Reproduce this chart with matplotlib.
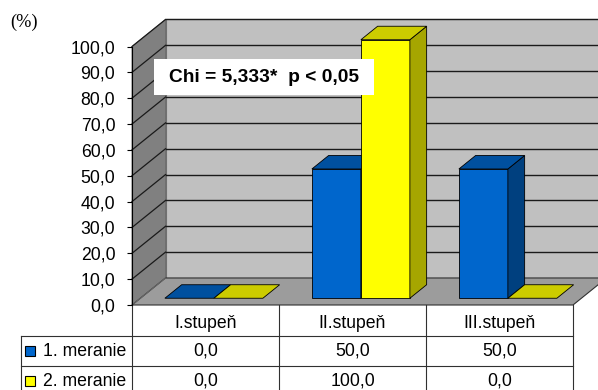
import matplotlib
matplotlib.use('Agg')
import matplotlib.pyplot as plt
from matplotlib.patches import Polygon, Rectangle
from matplotlib.ticker import FuncFormatter, MultipleLocator

# data
categories = ['I.stupeň', 'II.stupeň', 'III.stupeň']
series_names = ['1. meranie', '2. meranie']
meranie1 = [0.0, 50.0, 50.0]
meranie2 = [0.0, 100.0, 0.0]
series = [meranie1, meranie2]
ymax = 100
ystep = 10
chi_text = 'Chi = 5,333*  p < 0,05'

# style
_font = 'Liberation Sans'
_fs = 12.7
_front = ['#0066CC', '#FFFF00']
_top = ['#00509F', '#CCCC00']
_side = ['#00407F', '#A6A600']
_dx = 0.228         # depth offset, x data units
_dy = 10.45         # depth offset, y data units
_pxx = 147.0        # px per x unit
_pxy = 2.585        # px per y unit


def fmt(v):
    return f'{v:.1f}'.replace('.', ',')


fig = plt.figure(figsize=(5.98, 3.90), dpi=100)
ax = fig.add_axes([132 / 598, 85 / 390, 441 / 598, 258.5 / 390])
ax.set_xlim(0, len(categories))
ax.set_ylim(0, ymax)
ax.patch.set_visible(False)
for s in ['top', 'right', 'bottom']:
    ax.spines[s].set_visible(False)
ax.spines['left'].set_color('black')
ax.spines['left'].set_linewidth(0.8)
ax.spines['left'].set_zorder(3)
ax.set_xticks([])
ax.yaxis.set_major_locator(MultipleLocator(ystep))
ax.yaxis.set_major_formatter(FuncFormatter(lambda v, p: fmt(v)))
ax.tick_params(axis='y', direction='out', length=3.5, width=0.8,
               pad=8.5, labelsize=_fs)
for lab in ax.get_yticklabels():
    lab.set_fontfamily(_font)

n = len(categories)

# walls and floor
ax.add_patch(Polygon([(0, 0), (_dx, _dy), (_dx, ymax + _dy), (0, ymax)],
                     closed=True, fc='#808080', ec='#606060', lw=0.6,
                     zorder=0, clip_on=False))
ax.add_patch(Polygon([(_dx, _dy), (n + _dx, _dy), (n + _dx, ymax + _dy),
                      (_dx, ymax + _dy)],
                     closed=True, fc='#C0C0C0', ec='#707070', lw=0.8,
                     zorder=0, clip_on=False))
ax.add_patch(Polygon([(0, 0), (n, 0), (n + _dx, _dy), (_dx, _dy)],
                     closed=True, fc='#9C9C9C', ec='#303030', lw=0.8,
                     zorder=0.5, clip_on=False))

# gridlines on back wall and left wall
for v in range(ystep, ymax + 1, ystep):
    ax.plot([_dx, n + _dx], [v + _dy, v + _dy], color='#1a1a1a', lw=1.0,
            zorder=1, clip_on=False)
    ax.plot([0, _dx], [v, v + _dy], color='#1a1a1a', lw=0.9,
            zorder=1, clip_on=False)
ax.plot([0, _dx], [0, _dy], color='#6a6a6a', lw=0.7, zorder=1, clip_on=False)

# bars
bw = 1.0 / 3
ox, oy = 0.25 * _dx, 0.25 * _dy
bx, by = 0.5 * _dx, 0.5 * _dy
for ci in range(n):
    for si, vals in enumerate(series):
        h = vals[ci]
        x0 = ci + 1.0 / 6 + si * bw + ox
        y0 = oy
        x1 = x0 + bw
        z = 2 + ci * 0.1 + si * 0.01
        top = [(x0, y0 + h), (x1, y0 + h), (x1 + bx, y0 + h + by),
               (x0 + bx, y0 + h + by)]
        if h > 0:
            ax.add_patch(Rectangle((x0, y0), bw, h, fc=_front[si], ec='black',
                                   lw=0.6, zorder=z, clip_on=False))
            ax.add_patch(Polygon([(x1, y0), (x1 + bx, y0 + by),
                                  (x1 + bx, y0 + h + by), (x1, y0 + h)],
                                 closed=True, fc=_side[si], ec='black',
                                 lw=0.6, zorder=z, clip_on=False))
        ax.add_patch(Polygon(top, closed=True, fc=_top[si], ec='black',
                             lw=0.6, zorder=z, clip_on=False))

# chi text box
ax.add_patch(Rectangle((0.150, 81.2), 1.496, 13.8, fc='white', ec='none',
                       zorder=10, clip_on=False))
ax.text(0.898, 88.0, chi_text, ha='center', va='center', fontsize=13.8,
        fontweight='bold', fontfamily=_font, zorder=11)

# data table
xl = -111 / _pxx
rows_y = [0, -31 / _pxy, -61 / _pxy, -91 / _pxy]
tc = '#303030'
tlw = 0.8
for j in range(n + 1):
    ax.plot([j, j], [rows_y[0], rows_y[-1]], color=tc, lw=tlw,
            clip_on=False, zorder=1)
ax.plot([xl, xl], [rows_y[1], rows_y[-1]], color=tc, lw=tlw,
        clip_on=False, zorder=1)
for r in rows_y[1:3]:
    ax.plot([xl, n], [r, r], color=tc, lw=tlw, clip_on=False, zorder=1)

for j, cat in enumerate(categories):
    ax.text(j + 0.5, (rows_y[0] + rows_y[1]) / 2 - 1.0, cat, ha='center',
            va='center', fontsize=_fs, fontfamily=_font, clip_on=False)
for si, vals in enumerate(series):
    yc = (rows_y[si + 1] + rows_y[si + 2]) / 2
    ax.plot([(30 - 132) / _pxx], [yc], marker='s', ms=7.3, mfc=_front[si],
            mec='black', mew=0.8, ls='none', clip_on=False)
    ax.text((43 - 132) / _pxx, yc, series_names[si], ha='left', va='center',
            fontsize=_fs, fontfamily=_font, clip_on=False)
    for j, v in enumerate(vals):
        ax.text(j + 0.5, yc, fmt(v), ha='center', va='center',
                fontsize=_fs, fontfamily=_font, clip_on=False)

fig.text(10 / 598, 1 - 22.7 / 390, '(%)', ha='left', va='center',
         fontsize=13.2, fontfamily='Liberation Serif')

fig.savefig('out.png', dpi=100)
